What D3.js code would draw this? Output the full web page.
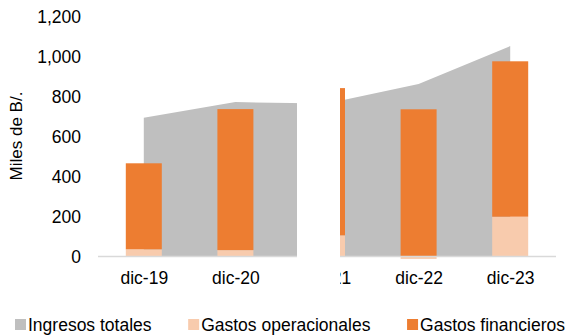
<!DOCTYPE html>
<html>
<head>
<meta charset="utf-8">
<script src="https://cdn.jsdelivr.net/npm/d3@7/dist/d3.min.js"></script>
<style>
  html, body { margin: 0; padding: 0; background: #fff; }
  svg { display: block; font-family: "Liberation Sans", Arial, sans-serif; }
</style>
</head>
<body>
<svg id="chart" width="577" height="335"></svg>
<script>
// Categories and series (miles de B/.)
const categories = ["dic-19", "dic-20", "dic-21", "dic-22", "dic-23"];
const ingresosTotales = [694, 772, 765, 862, 1052];
const gastosOperacionales = [36, 32, 106, -12, 199];
const gastosFinancieros = [430, 705, 736, 736, 777];
const yTicks = [0, 200, 400, 600, 800, 1000, 1200];

const seriesNames = ["Ingresos totales", "Gastos operacionales", "Gastos financieros"];
const colors = ["#bfbfbf", "#f8cbad", "#ed7d31"];

const svg = d3.select("#chart");
const plot = { left: 98, right: 556, top: 16.5, bottom: 256.5 };

const x = d3.scalePoint().domain(categories).range([plot.left, plot.right]).padding(0.5);
const y = d3.scaleLinear().domain([0, 1200]).range([plot.bottom, plot.top]);
const barW = x.step() * 0.393;

// Total income as a filled area between category centres
const rows = categories.map((c, i) => ({
  cat: c,
  ingresos: ingresosTotales[i],
  operacionales: gastosOperacionales[i],
  financieros: gastosFinancieros[i]
}));

const area = d3.area()
  .x(d => x(d.cat))
  .y0(y(0))
  .y1(d => y(d.ingresos));

svg.append("path")
  .datum(rows)
  .attr("d", area)
  .attr("fill", colors[0]);

// Stacked expense bars
const stack = d3.stack()
  .keys(["operacionales", "financieros"])
  .offset(d3.stackOffsetDiverging);
const stacked = stack(rows);

svg.append("g").selectAll("g")
  .data(stacked)
  .join("g")
  .attr("fill", (d, i) => colors[i + 1])
  .selectAll("rect")
  .data(d => d)
  .join("rect")
  .attr("x", d => x(d.data.cat) - barW / 2)
  .attr("width", barW)
  .attr("y", d => y(Math.max(d[0], d[1])))
  .attr("height", d => Math.abs(y(d[0]) - y(d[1])));

// Horizontal baseline
svg.append("line")
  .attr("x1", plot.left).attr("x2", plot.right)
  .attr("y1", y(0)).attr("y2", y(0))
  .attr("stroke", "#d9d9d9").attr("stroke-width", 1.5);

// Y axis (labels only)
const yAxis = d3.axisLeft(y)
  .tickValues(yTicks)
  .tickFormat(d3.format(","))
  .tickSize(0)
  .tickPadding(0);
const yg = svg.append("g")
  .attr("transform", "translate(81,0)")
  .call(yAxis);
yg.select(".domain").remove();
yg.selectAll("text")
  .attr("font-size", "17.5px")
  .attr("fill", "#000")
  .attr("font-family", "Liberation Sans, Arial, sans-serif");

// X axis labels
const xAxis = d3.axisBottom(x).tickSize(0).tickPadding(0);
const xg = svg.append("g")
  .attr("transform", "translate(0,284)")
  .call(xAxis);
xg.select(".domain").remove();
xg.selectAll("text")
  .attr("dy", 0)
  .attr("font-size", "17.5px")
  .attr("fill", "#000")
  .attr("font-family", "Liberation Sans, Arial, sans-serif");

// Y axis title
svg.append("text")
  .attr("transform", "translate(22,136) rotate(-90)")
  .attr("text-anchor", "middle")
  .attr("font-size", "17px")
  .attr("fill", "#000")
  .text("Miles de B/.");

// Blank band over part of the plot
svg.append("rect")
  .attr("x", 297).attr("y", 0)
  .attr("width", 43).attr("height", 300)
  .attr("fill", "#fff");

// Legend: items spread evenly between the left and right margins
const legendLeft = 15, legendRight = 565, swatch = 11, swatchGap = 2;
const legend = svg.append("g").selectAll("g")
  .data(seriesNames)
  .join("g");
legend.append("rect")
  .attr("y", 319)
  .attr("width", swatch).attr("height", swatch)
  .attr("fill", (d, i) => colors[i]);
const labels = legend.append("text")
  .attr("y", 331)
  .attr("font-size", "17.5px")
  .attr("fill", "#000")
  .text(d => d);
const widths = labels.nodes().map(n => n.getComputedTextLength());
const used = d3.sum(widths) + seriesNames.length * (swatch + swatchGap);
const gap = (legendRight - legendLeft - used) / (seriesNames.length - 1);
let cursor = legendLeft;
legend.each(function (d, i) {
  d3.select(this).attr("transform", `translate(${cursor},0)`);
  d3.select(this).select("text").attr("x", swatch + swatchGap);
  cursor += swatch + swatchGap + widths[i] + gap;
});
</script>
</body>
</html>
